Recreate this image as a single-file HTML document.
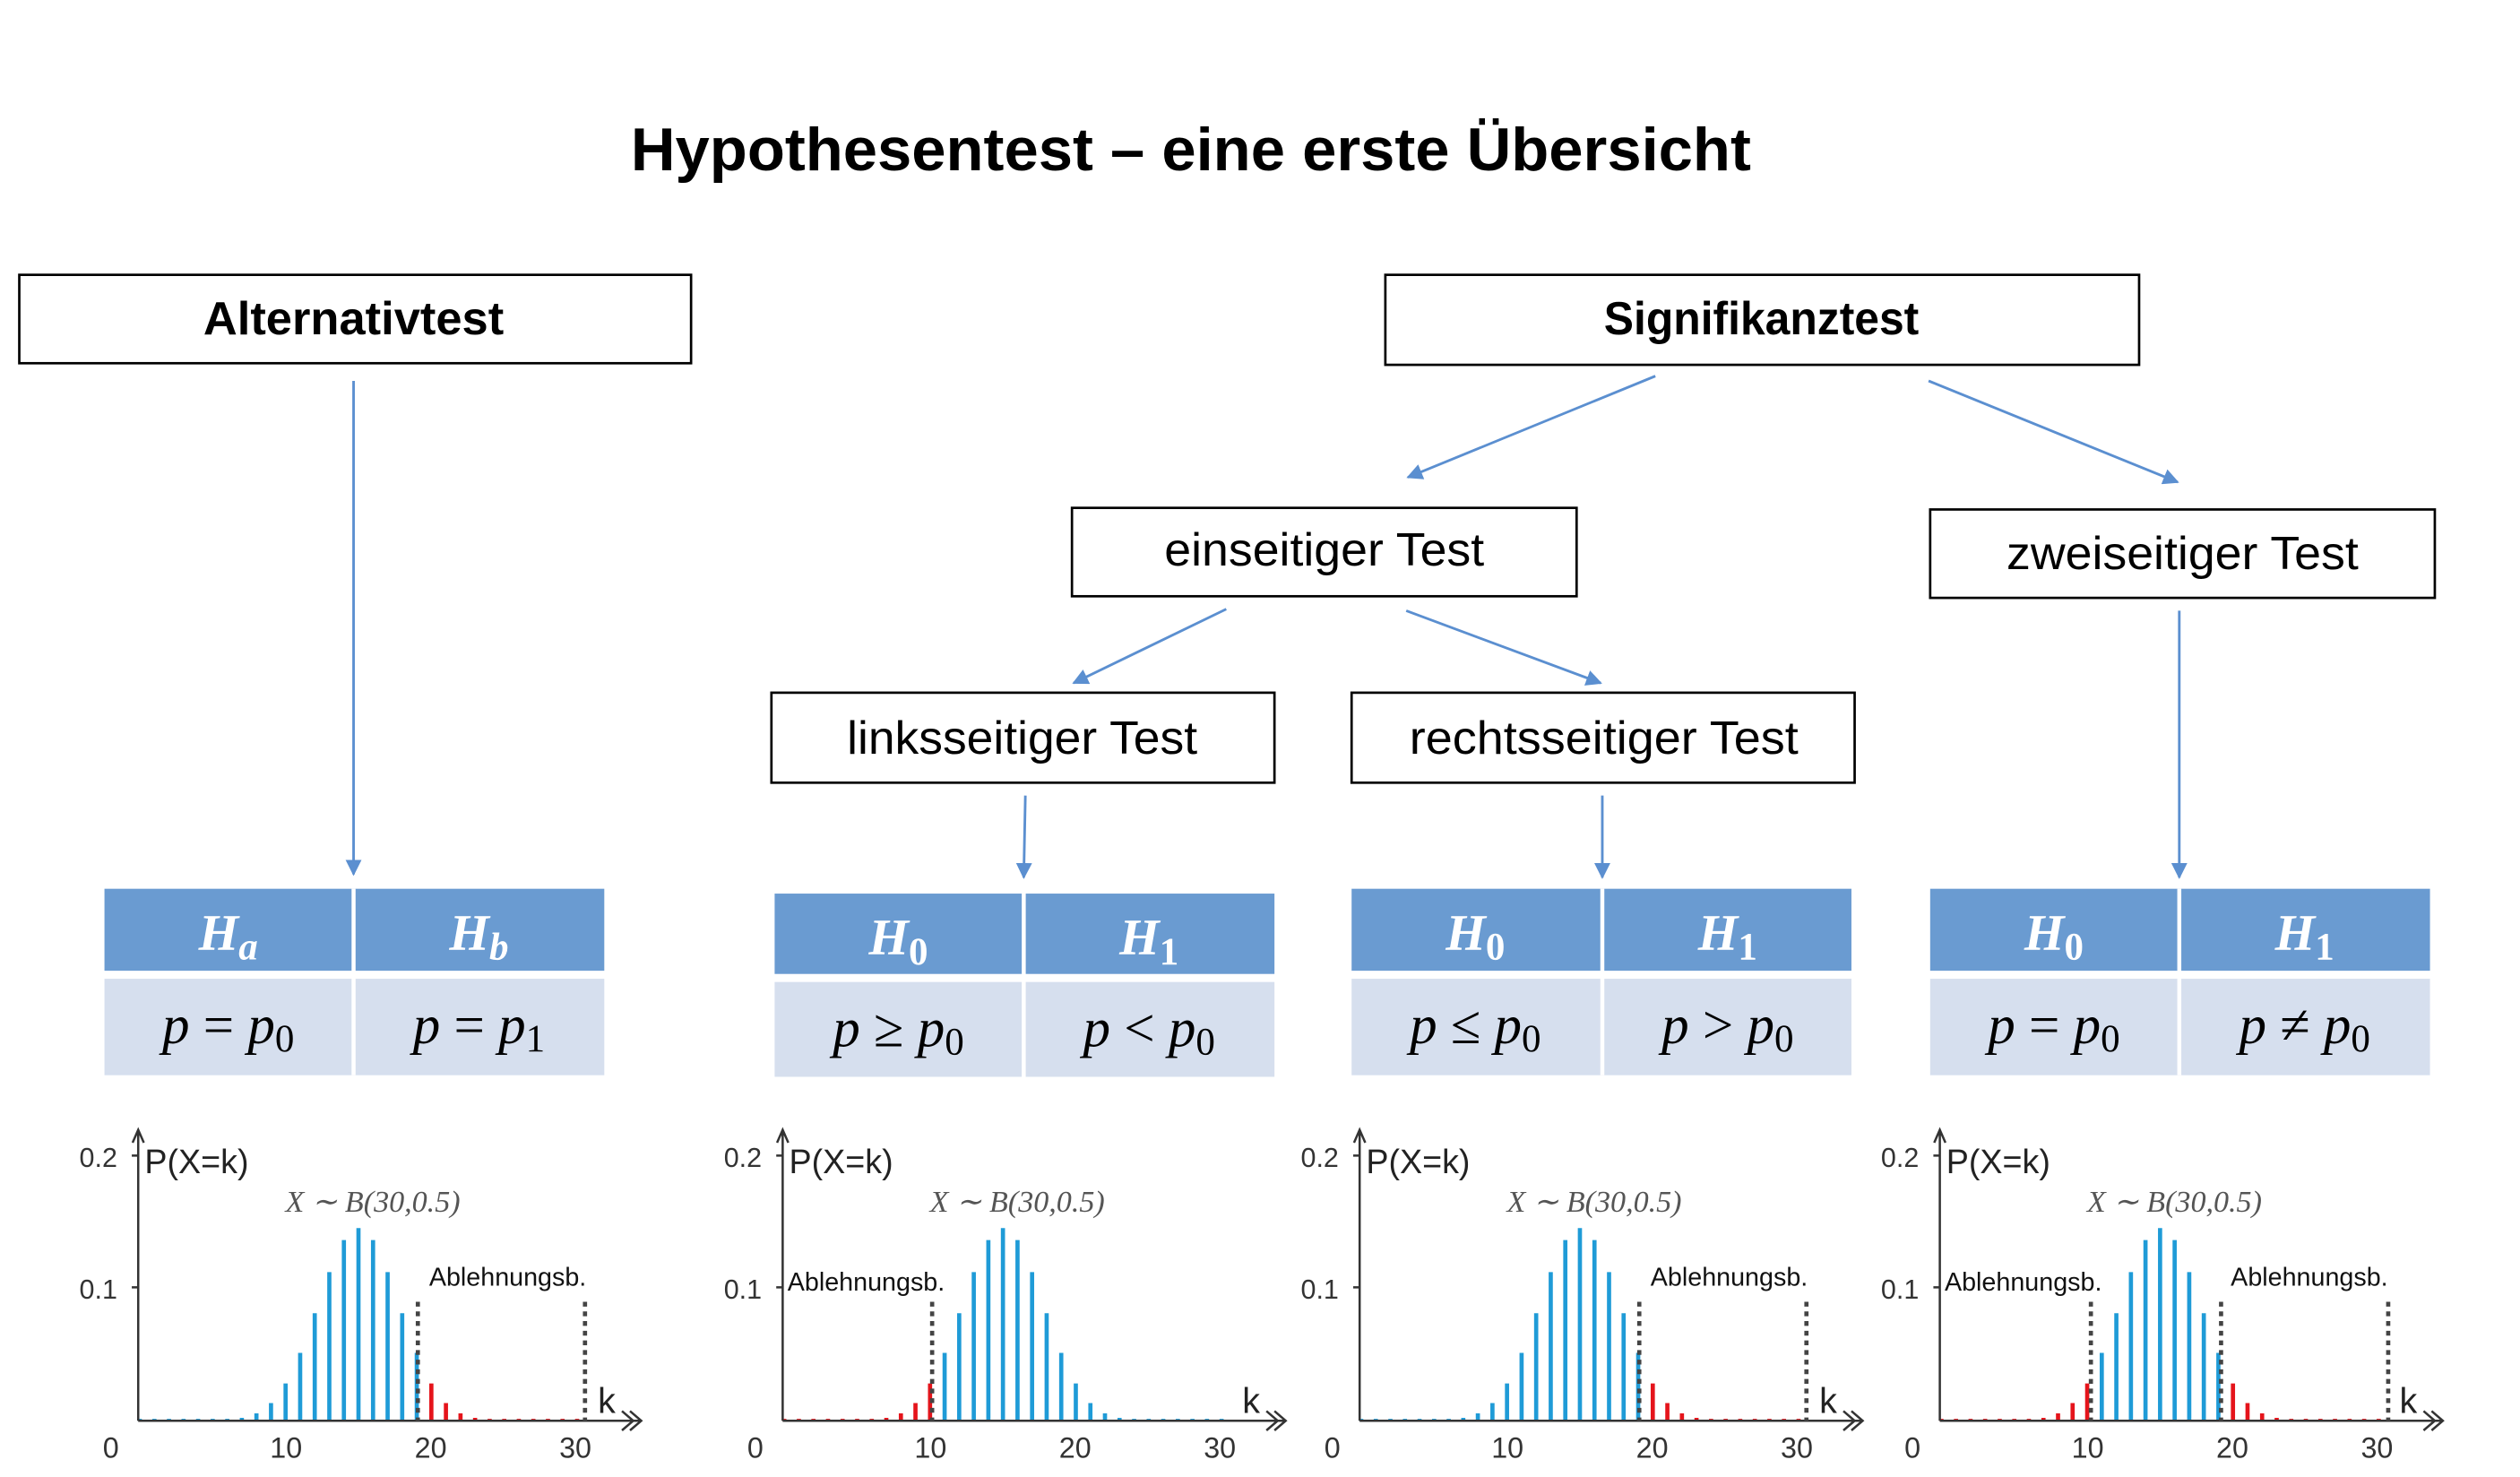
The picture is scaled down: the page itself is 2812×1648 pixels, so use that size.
<!DOCTYPE html>
<html><head><meta charset="utf-8"><style>html,body{margin:0;padding:0;background:#fff}svg{display:block}</style></head>
<body>
<svg xmlns="http://www.w3.org/2000/svg" xmlns:xlink="http://www.w3.org/1999/xlink" width="2812" height="1648" viewBox="0 0 1568 919" preserveAspectRatio="none">
<defs>
<marker id="ah" markerWidth="10" markerHeight="10" refX="9" refY="5" orient="auto" markerUnits="userSpaceOnUse"><path d="M0 0 L10 5 L0 10 Z" fill="#5b8fd0"/></marker>
<path id="L" fill="none" stroke-width="2.6" d="M1 884v-1.2M10.07 884v-1.2M19.14 884v-1.2M28.21 884v-1.2M37.28 884v-1.2M46.35 884v-1.2M55.42 884v-1.2M64.49 884v-1.8M73.56 884v-4.6M82.63 884v-11M91.7 884v-23.2"/>
<path id="M" fill="none" stroke-width="2.6" d="M100.77 884v-42.2M109.84 884v-66.9M118.91 884v-92.5M127.98 884v-112.4M137.05 884v-119.9M146.12 884v-112.4M155.19 884v-92.5M164.26 884v-66.9M173.33 884v-42.2"/>
<path id="R" fill="none" stroke-width="2.6" d="M182.4 884v-23.2M191.47 884v-11M200.54 884v-4.6M209.61 884v-1.8M218.68 884v-1.2M227.75 884v-1.2M236.82 884v-1.2M245.89 884v-1.2M254.96 884v-1.2M264.03 884v-1.2M273.1 884v-1.2"/>
<g id="AX" font-family="Liberation Sans, sans-serif">
<path d="M0 884V704M-3.5 711L0 703L3.5 711M0 884H313M306 878L313 884L306 890M301 878L308 884L301 890M-4 801H0M-4 719H0" fill="none" stroke="#333" stroke-width="1.4"/>
<text x="-13" y="726" font-size="17" text-anchor="end" fill="#333">0.2</text>
<text x="-13" y="808" font-size="17" text-anchor="end" fill="#333">0.1</text>
<text x="-17" y="907" font-size="18" text-anchor="middle" fill="#333">0</text>
<text x="92" y="907" font-size="18" text-anchor="middle" fill="#333">10</text>
<text x="182" y="907" font-size="18" text-anchor="middle" fill="#333">20</text>
<text x="272" y="907" font-size="18" text-anchor="middle" fill="#333">30</text>
<text x="4" y="730" font-size="21" fill="#222">P(X=k)</text>
<text x="146" y="754" font-size="19" text-anchor="middle" fill="#555" font-family="Liberation Serif, serif" font-style="italic">X ∼ B(30,0.5)</text>
<text x="286" y="879" font-size="22" fill="#222">k</text>
</g>
</defs>

<text x="741" y="106" font-family="Liberation Sans, sans-serif" font-weight="bold" font-size="38" text-anchor="middle" textLength="697" lengthAdjust="spacingAndGlyphs">Hypothesentest – eine erste Übersicht</text>

<g fill="#fff" stroke="#000" stroke-width="1.5">
<rect x="12" y="171" width="418" height="55"/>
<rect x="862" y="171" width="469" height="56"/>
<rect x="667" y="316" width="314" height="55"/>
<rect x="1201" y="317" width="314" height="55"/>
<rect x="480" y="431" width="313" height="56"/>
<rect x="841" y="431" width="313" height="56"/>
</g>
<g font-family="Liberation Sans, sans-serif" font-size="29" text-anchor="middle">
<text x="220" y="208" font-weight="bold" textLength="187" lengthAdjust="spacingAndGlyphs">Alternativtest</text>
<text x="1096" y="208" font-weight="bold" textLength="196" lengthAdjust="spacingAndGlyphs">Signifikanztest</text>
<text x="824" y="352" textLength="199" lengthAdjust="spacingAndGlyphs">einseitiger Test</text>
<text x="1358" y="354" textLength="219" lengthAdjust="spacingAndGlyphs">zweiseitiger Test</text>
<text x="636" y="469" textLength="218" lengthAdjust="spacingAndGlyphs">linksseitiger Test</text>
<text x="998" y="469" textLength="242" lengthAdjust="spacingAndGlyphs">rechtsseitiger Test</text>
</g>

<g stroke="#5b8fd0" stroke-width="1.6" fill="none" marker-end="url(#ah)">
<path d="M220 237V544"/>
<path d="M1030 234L876 297"/>
<path d="M1200 237L1355 300"/>
<path d="M763 379L668 425"/>
<path d="M875 380L996 425"/>
<path d="M638 495L637 546"/>
<path d="M997 495V546"/>
<path d="M1356 380V546"/>
</g>

<g>
<rect x="65" y="553" width="311" height="51" fill="#6a9bd1"/><rect x="65" y="609" width="311" height="60" fill="#d6dfee"/>
<rect x="482" y="556" width="311" height="50" fill="#6a9bd1"/><rect x="482" y="611" width="311" height="59" fill="#d6dfee"/>
<rect x="841" y="553" width="311" height="51" fill="#6a9bd1"/><rect x="841" y="609" width="311" height="60" fill="#d6dfee"/>
<rect x="1201" y="553" width="311" height="51" fill="#6a9bd1"/><rect x="1201" y="609" width="311" height="60" fill="#d6dfee"/>
<path d="M220 553V669M637 556V670M997 553V669M1356 553V669" stroke="#fff" stroke-width="2.5"/>
</g>
<g font-family="Liberation Serif, serif" font-style="italic" font-weight="bold" font-size="32" fill="#fff" text-anchor="middle">
<text x="142" y="591">H<tspan font-size="24" dy="6">a</tspan></text>
<text x="298" y="591">H<tspan font-size="24" dy="6">b</tspan></text>
<text x="559" y="594">H<tspan font-size="24" dy="6" font-style="normal">0</tspan></text>
<text x="715" y="594">H<tspan font-size="24" dy="6" font-style="normal">1</tspan></text>
<text x="918" y="591">H<tspan font-size="24" dy="6" font-style="normal">0</tspan></text>
<text x="1075" y="591">H<tspan font-size="24" dy="6" font-style="normal">1</tspan></text>
<text x="1278" y="591">H<tspan font-size="24" dy="6" font-style="normal">0</tspan></text>
<text x="1434" y="591">H<tspan font-size="24" dy="6" font-style="normal">1</tspan></text>
</g>
<g font-family="Liberation Serif, serif" font-style="italic" font-size="34" fill="#000" text-anchor="middle">
<text x="142" y="649">p <tspan font-style="normal">=</tspan> p<tspan font-size="24" dy="5" font-style="normal">0</tspan></text>
<text x="298" y="649">p <tspan font-style="normal">=</tspan> p<tspan font-size="24" dy="5" font-style="normal">1</tspan></text>
<text x="559" y="651">p <tspan font-style="normal">≥</tspan> p<tspan font-size="24" dy="5" font-style="normal">0</tspan></text>
<text x="715" y="651">p <tspan font-style="normal">&lt;</tspan> p<tspan font-size="24" dy="5" font-style="normal">0</tspan></text>
<text x="918" y="649">p <tspan font-style="normal">≤</tspan> p<tspan font-size="24" dy="5" font-style="normal">0</tspan></text>
<text x="1075" y="649">p <tspan font-style="normal">&gt;</tspan> p<tspan font-size="24" dy="5" font-style="normal">0</tspan></text>
<text x="1278" y="649">p <tspan font-style="normal">=</tspan> p<tspan font-size="24" dy="5" font-style="normal">0</tspan></text>
<text x="1434" y="649">p <tspan font-style="normal">≠</tspan> p<tspan font-size="24" dy="5" font-style="normal">0</tspan></text>
</g>

<g font-family="Liberation Sans, sans-serif" font-size="16" fill="#111">
<g transform="translate(86,0)">
<use xlink:href="#L" stroke="#1f9bd7"/><use xlink:href="#M" stroke="#1f9bd7"/><use xlink:href="#R" stroke="#e5141b"/>
<use xlink:href="#AX"/>
<path d="M174 810V884M278 810V884" stroke="#444" stroke-width="2.6" stroke-dasharray="3,3"/>
<text x="181" y="800">Ablehnungsb.</text>
</g>
<g transform="translate(487,0)">
<use xlink:href="#L" stroke="#e5141b"/><use xlink:href="#M" stroke="#1f9bd7"/><use xlink:href="#R" stroke="#1f9bd7"/>
<use xlink:href="#AX"/>
<path d="M93 810V884" stroke="#444" stroke-width="2.6" stroke-dasharray="3,3"/>
<text x="3" y="803">Ablehnungsb.</text>
</g>
<g transform="translate(846,0)">
<use xlink:href="#L" stroke="#1f9bd7"/><use xlink:href="#M" stroke="#1f9bd7"/><use xlink:href="#R" stroke="#e5141b"/>
<use xlink:href="#AX"/>
<path d="M174 810V884M278 810V884" stroke="#444" stroke-width="2.6" stroke-dasharray="3,3"/>
<text x="181" y="800">Ablehnungsb.</text>
</g>
<g transform="translate(1207,0)">
<use xlink:href="#L" stroke="#e5141b"/><use xlink:href="#M" stroke="#1f9bd7"/><use xlink:href="#R" stroke="#e5141b"/>
<use xlink:href="#AX"/>
<path d="M94 810V884M175 810V884M279 810V884" stroke="#444" stroke-width="2.6" stroke-dasharray="3,3"/>
<text x="3" y="803">Ablehnungsb.</text>
<text x="181" y="800">Ablehnungsb.</text>
</g>
</g>
</svg>
</body></html>
